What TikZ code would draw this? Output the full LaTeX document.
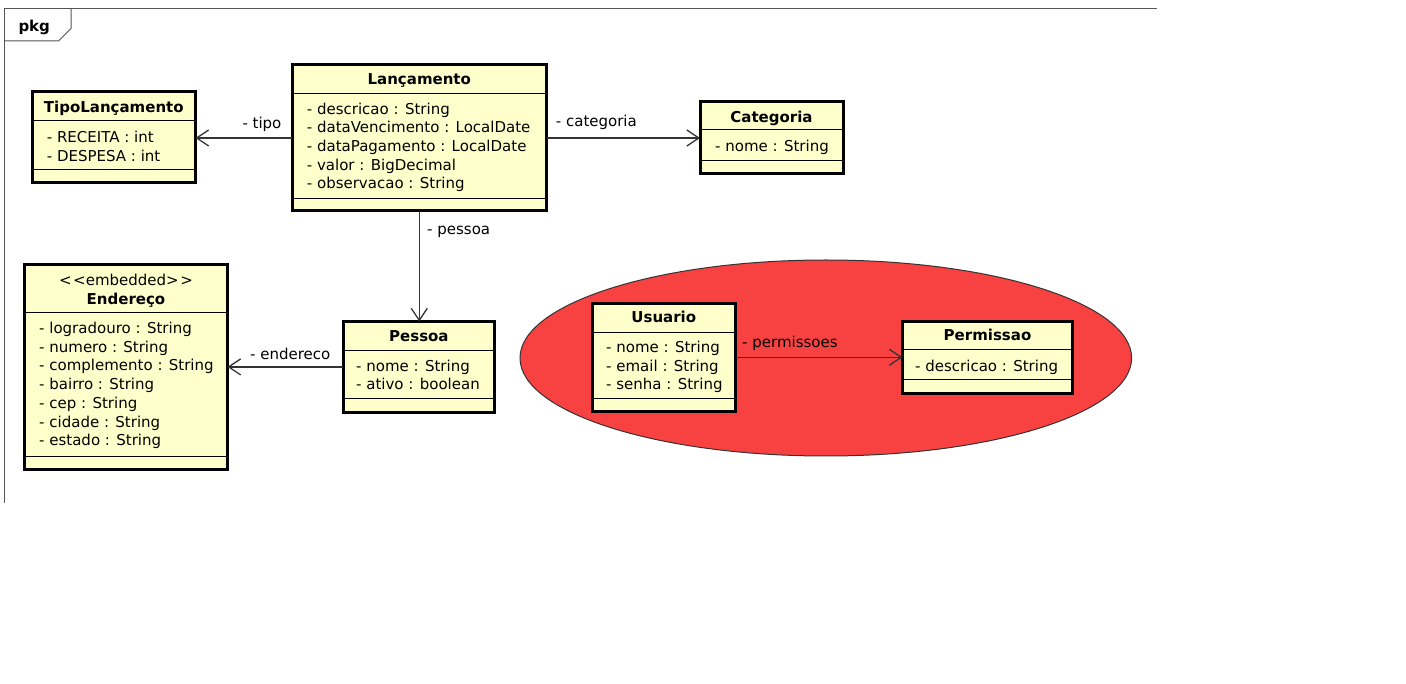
\documentclass[tikz,border=0pt]{standalone}
\usepackage{fontspec}
\setmainfont{DejaVu Sans}
\usetikzlibrary{arrows.meta}
\definecolor{umlfill}{HTML}{FFFFCC}
\definecolor{redfill}{HTML}{F84242}
\definecolor{linegray}{HTML}{333333}
\definecolor{framegray}{HTML}{555555}
\tikzset{
  umlbox/.style={draw=black, line width=3pt, fill=umlfill, inner sep=0pt, outer sep=0pt},
  sepline/.style={draw=black, line width=1pt},
  clsname/.style={font=\fontsize{15}{18}\selectfont\bfseries, inner sep=0pt, anchor=base},
  attr/.style={font=\fontsize{15}{18}\selectfont, inner sep=0pt, anchor=base west},
  lbl/.style={font=\fontsize{15}{18}\selectfont, inner sep=0pt, anchor=base west},
  assoc/.style={draw=linegray, line width=1.3pt, -{Straight Barb[length=12pt,width=16pt,line width=1.3pt]}},
  framestyle/.style={draw=framegray, line width=1pt},
}
\newcommand{\umlclass}[7]{%
  \node[umlbox, minimum width={#4-#2}, minimum height={#5-#3}, anchor=north west] (#1) at (#2,#3) {};
  \draw[sepline] (#2,#6) -- (#4,#6);
  \draw[sepline] (#2,#7) -- (#4,#7);
}
\begin{document}
\begin{tikzpicture}[x=1pt,y=-1pt]
\useasboundingbox (0,0) rectangle (1406,684);
% frame
\draw[framestyle] (1157,9) -- (4,9) -- (4,503);
\draw[framestyle] (71,9) -- (71,28.5) -- (58.5,41) -- (4,41);
\node[clsname, anchor=base west] (pkg) at (18.3,31.7) {pkg};
% ellipse
\draw[draw=black!80, line width=1pt, fill=redfill] (825.8,358) ellipse [x radius=305.8, y radius=98];
% TipoLancamento
\umlclass{tipo}{32}{92}{195.5}{183}{120.7}{169.3}
\node[clsname] (tipoN) at (113.8,112.7) {TipoLançamento};
\node[attr] (tipoA1) at (46.7,142.7) {- RECEITA : int};
\node[attr] (tipoA2) at (46.7,161.2) {- DESPESA : int};
% Lancamento
\umlclass{lanc}{292}{65}{546.5}{211}{93.3}{198.3}
\node[clsname] (lancN) at (419.3,84.3) {Lançamento};
\node[attr] (lancA1) at (306.7,114.3) {- descricao : String};
\node[attr] (lancA2) at (306.7,133.0) {- dataVencimento : LocalDate};
\node[attr] (lancA3) at (306.7,151.7) {- dataPagamento : LocalDate};
\node[attr] (lancA4) at (306.7,170.2) {- valor : BigDecimal};
\node[attr] (lancA5) at (306.7,188.8) {- observacao : String};
% Categoria
\umlclass{cat}{700}{102}{843}{174}{130}{160.7}
\node[clsname] (catN) at (771.5,122.3) {Categoria};
\node[attr] (catA1) at (715,151.7) {- nome : String};
% Endereco
\umlclass{end}{24.5}{265}{227.5}{469.5}{312.3}{456.7}
\node[font=\fontsize{15}{18}\selectfont, inner sep=0pt, anchor=base] (endS) at (126,286) {<\kern1.5pt<embedded>\kern1.5pt>};
\node[clsname] (endN) at (126,304.3) {Endereço};
\node[attr] (endA1) at (39,333.3) {- logradouro : String};
\node[attr] (endA2) at (39,352.3) {- numero : String};
\node[attr] (endA3) at (39,371.0) {- complemento : String};
\node[attr] (endA4) at (39,390.0) {- bairro : String};
\node[attr] (endA5) at (39,408.5) {- cep : String};
\node[attr] (endA6) at (39,427.3) {- cidade : String};
\node[attr] (endA7) at (39,446.0) {- estado : String};
% Pessoa
\umlclass{pes}{343}{321.5}{494.5}{412.3}{351}{399}
\node[clsname] (pesN) at (418.9,341.7) {Pessoa};
\node[attr] (pesA1) at (356,371.7) {- nome : String};
\node[attr] (pesA2) at (356,390.0) {- ativo : boolean};
% Usuario
\umlclass{usu}{592}{303.3}{735.5}{411.3}{332.3}{399}
\node[clsname] (usuN) at (663.8,322.3) {Usuario};
\node[attr] (usuA1) at (606,352.7) {- nome : String};
\node[attr] (usuA2) at (606,371.7) {- email : String};
\node[attr] (usuA3) at (606,390.0) {- senha : String};
% Permissao
\umlclass{perm}{902.5}{322}{1072.3}{393.3}{350}{380}
\node[clsname] (permN) at (987.5,340.7) {Permissao};
\node[attr] (permA1) at (915,371.7) {- descricao : String};
% connectors
\draw[assoc] (lanc.west) -- (lanc.west -| tipo.east);
\draw[assoc] (lanc.east) -- (lanc.east -| cat.west);
\draw[assoc] (lanc.south) -- (lanc.south |- pes.north);
\draw[assoc] (pes.west) -- (pes.west -| end.east);
\draw[assoc] (usu.east) -- (usu.east -| perm.west);
% labels
\node[lbl] (lTipo) at (242.3,128.3) {- tipo};
\node[lbl] (lCat) at (555.7,126.7) {- categoria};
\node[lbl] (lPes) at (427,235) {- pessoa};
\node[lbl] (lEnd) at (250,360) {- endereco};
\node[lbl] (lPerm) at (742,347.3) {- permissoes};
\end{tikzpicture}
\end{document}
